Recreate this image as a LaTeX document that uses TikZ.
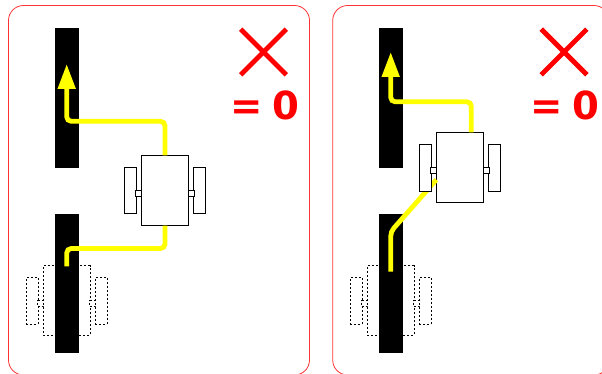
\documentclass[tikz,border=0pt]{standalone}
\usepackage{fontspec}
\setmainfont{DejaVu Sans}
\usepackage{xcolor}
\usetikzlibrary{arrows.meta,positioning,calc}
\definecolor{trailyellow}{HTML}{FFFF00}
\definecolor{scorered}{HTML}{FF0000}
\newcommand{\wheelset}[2]{%
  \foreach \side in {-1,1} {
    \node[wheel,#2] at ($(#1.center)+(\side*34.6,0)$) {};
    \node[axle,#2] at ($(#1.center)+(\side*26.2,2.8)$) {};
  }}
\begin{document}
\begin{tikzpicture}[x=0.75pt,y=-0.75pt,
  panel/.style={draw=scorered!80!white,line width=0.6pt,rounded corners=11.25pt},
  track/.style={fill=black,inner sep=0pt,minimum width=18pt,minimum height=104.8pt},
  chassis/.style={draw,fill=white,line width=0.5pt,inner sep=0pt,minimum width=34.95pt,minimum height=52.2pt},
  wheel/.style={draw,fill=white,line width=0.5pt,inner sep=0pt,minimum width=9pt,minimum height=34.95pt},
  axle/.style={draw,fill=white,line width=0.5pt,inner sep=0pt,minimum width=4.5pt,minimum height=4.5pt},
  ghost/.style={dash pattern=on 1.5pt off 1.5pt,line width=0.7pt},
  trail/.style={draw=trailyellow,line width=3.6pt,rounded corners=3.4pt},
  trailhead/.style={-{Triangle[width=12.75pt,length=18.75pt]}},
  cross/.style={draw=scorered,line width=3.7pt},
  score/.style={text=scorered,font=\fontsize{29}{29}\selectfont\bfseries,inner sep=0pt,
    execute at begin node={\spaceskip=.25em\relax}}]
\clip (0,0) rectangle (602,374);
\draw[panel] (8.5,5.5) rectangle (309.5,375);
\draw[panel] (332.7,5.5) rectangle (609,375);

\foreach \panelname/\cx/\tx in {left/66.7/264.5,right/390.7/565} {
  \node[chassis,ghost] (ghost\panelname) at (\cx,300.7) {};
  \wheelset{ghost\panelname}{ghost}
  \node[track] (upper\panelname) at (\cx,98.2) {};
  \node[track] (lower\panelname) at (\cx,283.5) {};
  \draw[cross] (\tx-23.8,29.2) -- (\tx+21.8,74.8);
  \draw[cross] (\tx+21.8,29.2) -- (\tx-23.8,74.8);
  \node[score] (score\panelname) at (\tx,105.5) {= 0};
}

\node[chassis] (robotleft) at (165,190.5) {};
\draw[trail] (robotleft.south) |- (66.7,248.5) -- (66.7,266.3);
\draw[trail,trailhead] (robotleft.north) |- (66.7,121.3) -- (66.7,64);
\wheelset{robotleft}{}

\node[chassis] (robotright) at (460,167.6) {};
\draw[trail] (390.7,271.7) -- (390.7,231.7) -- (robotright.west |- 0,179.7);
\draw[trail,trailhead] ([xshift=8.5pt]robotright.north) |- (390.7,101.8) -- (390.7,52);
\wheelset{robotright}{}
\end{tikzpicture}
\end{document}
